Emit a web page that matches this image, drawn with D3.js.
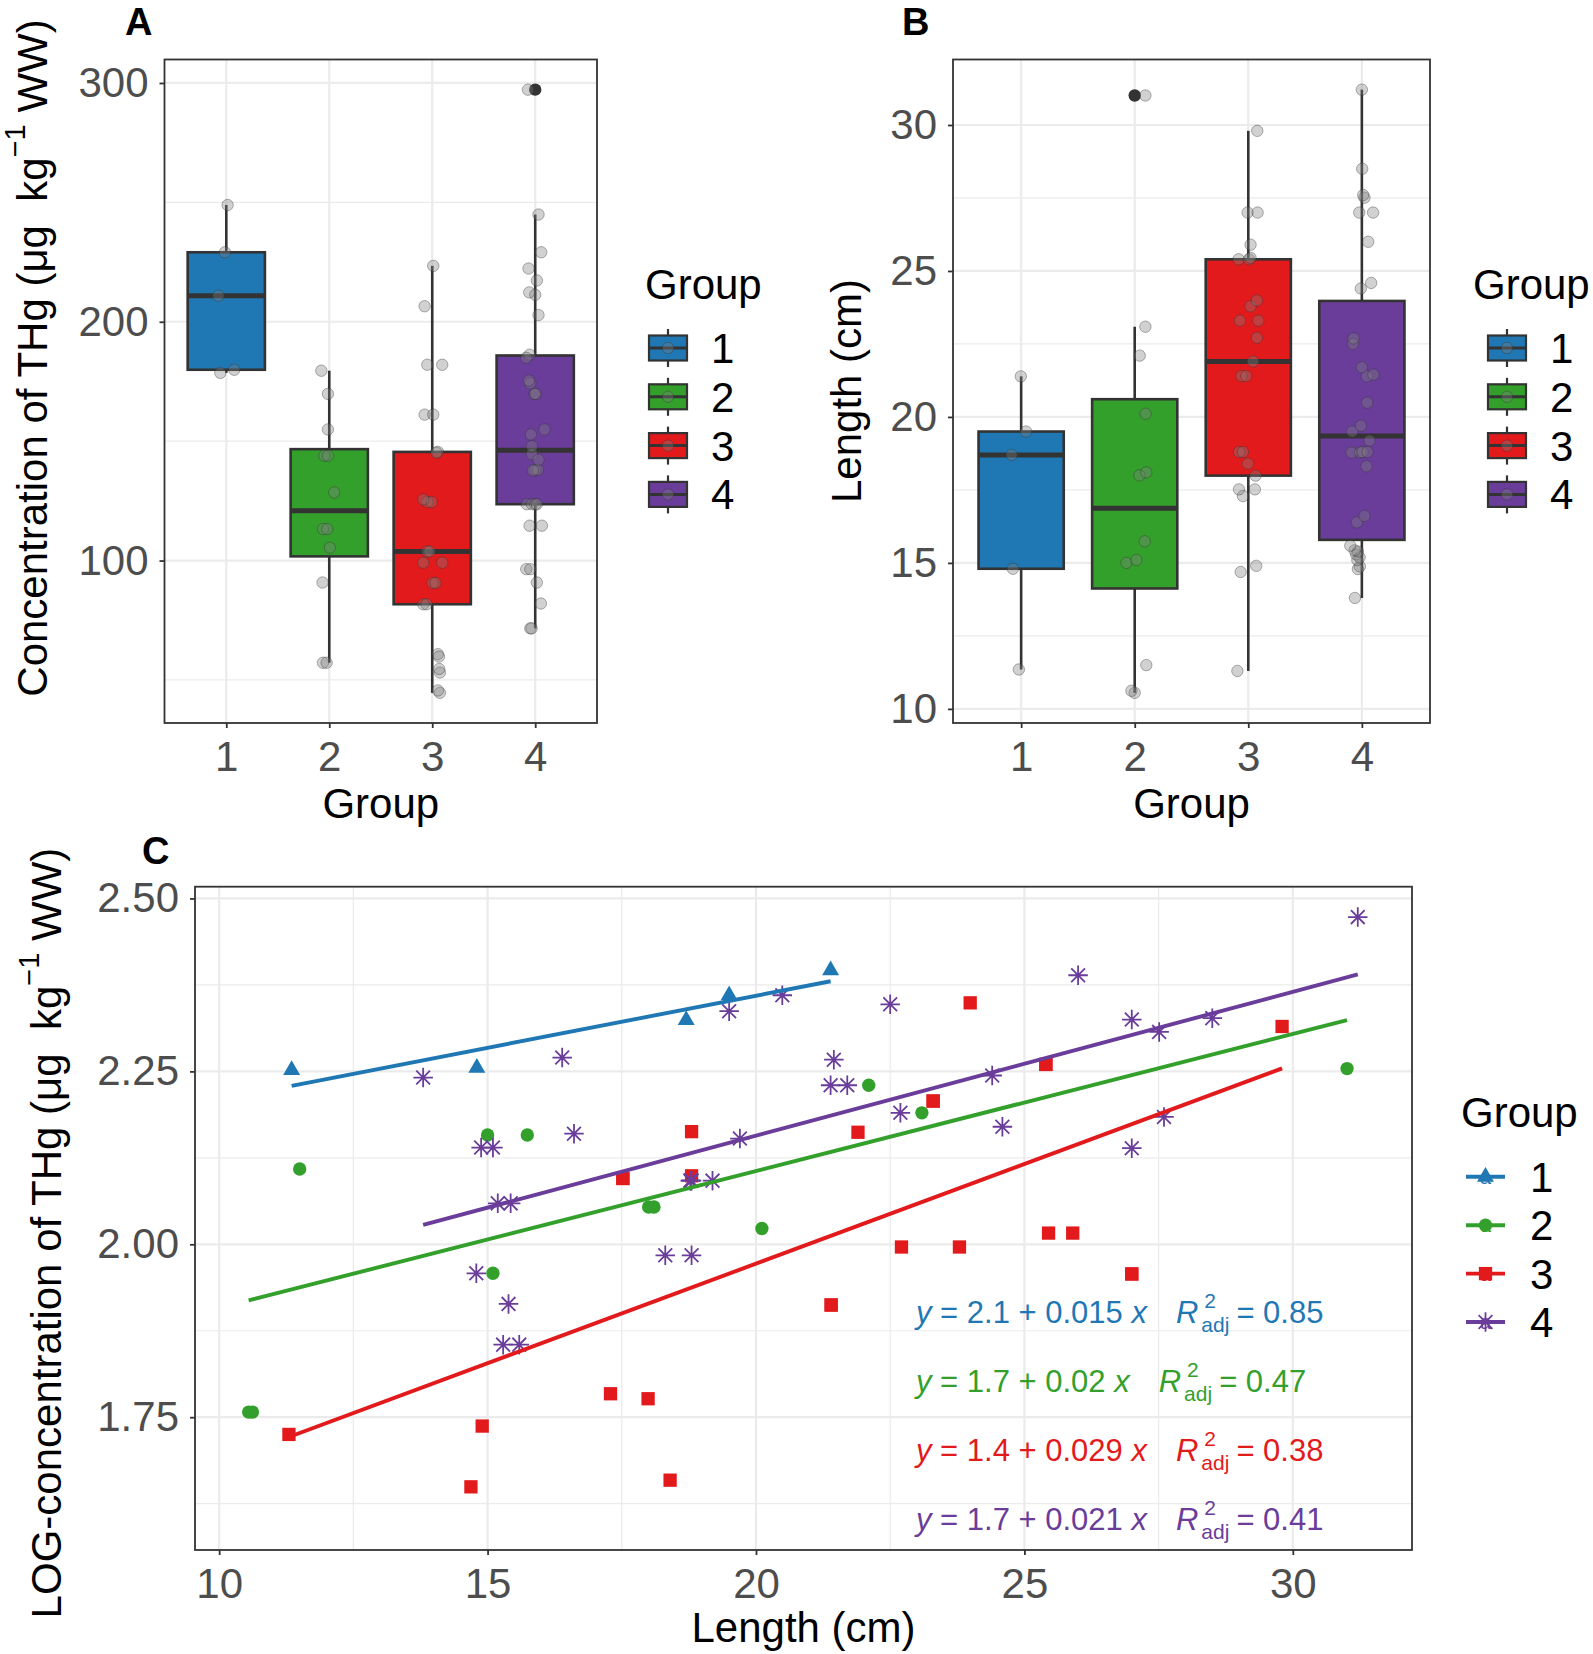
<!DOCTYPE html>
<html>
<head>
<meta charset="utf-8">
<script src="https://cdn.jsdelivr.net/npm/d3@7"></script>
<style>
  body { margin: 0; background: #fff; }
  svg { font-family: "Liberation Sans", Arial, sans-serif; }
</style>
</head>
<body>
<svg id="chart" width="1593" height="1654"></svg>
<script>
// ---- data (one entry per fish, per group) ----
var groups = ["1", "2", "3", "4"];
var groupColors = ["#1F78B4", "#33A02C", "#E31A1C", "#6A3D9A"];

// length (cm)
var lengthG1 = [11.35, 14.80, 18.70, 19.50, 21.39];
var lengthG2 = [10.55, 10.62, 11.50, 15.00, 15.10, 15.74, 18.00, 18.10, 20.11, 22.10, 23.09, 31.01];
var lengthG3 = [11.30, 14.69, 14.90, 17.29, 17.52, 17.52, 17.99, 18.40, 18.80, 18.80, 21.40, 21.40, 21.90,
                22.71, 23.30, 23.30, 23.79, 23.99, 25.40, 25.40, 25.45, 25.90, 27.00, 27.00, 29.80];
var lengthG4 = [13.80, 14.79, 14.88, 15.10, 15.19, 15.29, 15.39, 15.43, 15.59, 16.39, 16.61, 18.31, 18.78,
                18.78, 18.80, 18.80, 19.19, 19.50, 19.70, 20.49, 21.39, 21.45, 21.70, 22.50, 22.69, 24.40,
                24.59, 26.00, 27.00, 27.00, 27.51, 27.60, 28.50, 31.21];

// THg (ug/kg WW)
var thgG1 = [178.6, 179.9, 210.9, 229.1, 248.9];
var thgG2 = [57.2, 57.2, 128.5, 143.9, 90.8, 143.9, 113.2, 113.2, 105.4, 169.8, 154.9, 179.5];
var thgG3 = [53.1, 44.6, 54.6, 60.8, 124.5, 124.5, 59.8, 45.6, 145.5, 125.6, 81.7, 81.7, 145.2,
             99.1, 161.1, 161.1, 99.1, 223.4, 182.0, 182.0, 103.8, 103.8, 90.6, 90.6, 206.5];
var thgG4 = [174.2, 90.8, 138.0, 138.0, 114.6, 71.6, 82.0, 114.6, 71.6, 186.2, 144.5, 96.4, 123.6,
             123.6, 96.4, 123.6, 123.6, 217.3, 142.2, 229.1, 169.8, 184.9, 169.8, 222.3, 154.9, 175.4,
             147.9, 244.9, 211.3, 137.7, 202.8, 152.8, 212.3, 297.2];

var jitThgG1 = [-0.058, 0.077, -0.077, -0.013, 0.013];
var jitThgG2 = [-0.061, -0.026, 0.048, -0.048, -0.065, -0.013, -0.061, -0.019, 0.006, -0.013, -0.013, -0.077];
var jitThgG3 = [0.074, 0.074, 0.068, 0.055, -0.048, -0.006, 0.065, 0.055, 0.055, -0.087, -0.087, -0.055, 0.04,
                -0.087, -0.074, 0.01, 0.097, 0.01, -0.048, 0.097, -0.048, -0.026, 0.003, 0.032, -0.074];
var jitThgG4 = [-0.048, 0.016, 0, 0.026, -0.055, -0.048, 0.055, 0.065, -0.035, -0.055, -0.032, -0.087, -0.081,
                -0.032, -0.048, 0.0, 0.016, 0.016, 0.032, 0.058, -0.006, -0.087, 0.003, -0.065, 0.09,
                -0.061, -0.032, 0.032, 0, -0.023, 0.032, -0.042, -0.058, -0.071];
var jitLenG1 = [-0.02, -0.072, -0.084, 0.043, -0.003];
var jitLenG2 = [0, -0.029, 0.102, -0.073, 0.015, 0.088, 0.041, 0.102, 0.096, 0.044, 0.094, 0.094];
var jitLenG3 = [-0.096, -0.067, 0.07, -0.047, -0.082, 0.058, 0.064, -0.003, -0.082, -0.047, -0.061, -0.018, 0.041,
                0.076, -0.073, 0.088, 0.02, 0.076, -0.085, 0.006, 0.02, 0.02, -0.006, 0.082, 0.079];
var jitLenG4 = [-0.061, -0.035, -0.018, -0.04, -0.02, -0.05, -0.035, -0.064, -0.102, -0.044, 0.023, 0.041, -0.091,
                -0.015, 0.006, 0.05, 0.067, -0.085, -0.009, 0.047, 0.044, 0.102, 0, -0.079, -0.073, -0.009,
                0.082, 0.056, -0.023, 0.099, 0.023, 0.012, 0.003, 0];

// fitted lines log10(THg) ~ length, and their printed labels
var fitIntercept = [2.058, 1.710, 1.396, 1.741];
var fitSlope = [0.01507, 0.0198, 0.0288, 0.0208];
var eqIntercept = ["2.1", "1.7", "1.4", "1.7"];
var eqSlope = ["0.015", "0.02", "0.029", "0.021"];
var eqR2 = ["0.85", "0.47", "0.38", "0.41"];

// axis ticks
var thgTicks = [100, 200, 300], thgMinor = [50, 150, 250];
var lenTicks = [10, 15, 20, 25, 30], lenMinor = [12.5, 17.5, 22.5, 27.5];
var logTicks = [1.75, 2.00, 2.25, 2.50], logMinor = [1.625, 1.875, 2.125, 2.375];
var logLimits = [1.558, 2.517], lenLimitsC = [9.55, 32.22];

// ---- build table ----
var lengths = [lengthG1, lengthG2, lengthG3, lengthG4];
var thgs = [thgG1, thgG2, thgG3, thgG4];
var jitThg = [jitThgG1, jitThgG2, jitThgG3, jitThgG4];
var jitLen = [jitLenG1, jitLenG2, jitLenG3, jitLenG4];

var fish = groups.map(function(g, i) {
  return lengths[i].map(function(l, j) {
    return { group: g, gi: i, len: l, thg: thgs[i][j], logThg: Math.log10(thgs[i][j]),
             jThg: jitThg[i][j], jLen: jitLen[i][j] };
  });
});

var svg = d3.select("#chart");
var FS = 42;
var GRID = "#EBEBEB", DARK = "#333333", TICKTXT = "#4D4D4D";

function boxStats(vals) {
  var s = vals.slice().sort(d3.ascending);
  var q1 = d3.quantile(s, 0.25), med = d3.quantile(s, 0.5), q3 = d3.quantile(s, 0.75);
  var iqr = q3 - q1, lo = q1 - 1.5 * iqr, hi = q3 + 1.5 * iqr;
  var inside = s.filter(function(v) { return v >= lo && v <= hi; });
  return { q1: q1, med: med, q3: q3, wlo: d3.min(inside), whi: d3.max(inside),
           out: s.filter(function(v) { return v < lo || v > hi; }) };
}

function styleAxis(ax) {
  ax.select(".domain").remove();
  ax.selectAll(".tick line").attr("stroke", DARK).attr("stroke-width", 1.8);
  ax.selectAll(".tick text").attr("fill", TICKTXT).style("font-size", FS + "px")
    .style("font-family", "'Liberation Sans', Arial, sans-serif");
}

function yTitle(x, y, parts) {
  var t = svg.append("text").attr("transform", "translate(" + x + "," + y + ") rotate(-90)")
    .attr("text-anchor", "middle").style("font-size", FS + "px").style("white-space", "pre");
  parts.forEach(function(p) {
    var s = t.append("tspan").text(p.text);
    if (p.sup) s.style("font-size", "29px").attr("dy", -22);
    if (p.after) s.attr("dy", 22);
  });
}

function thgTitleParts(prefix) {
  return [{ text: prefix + "of THg (\u03bcg  kg" }, { text: "\u22121", sup: true }, { text: " WW)", after: true }];
}

function drawBoxPanel(p) {
  var x = d3.scalePoint().domain(groups).range([p.left, p.right]).padding(0.6);
  var step = x.step();
  var all = [].concat.apply([], fish.map(function(f) { return f.map(function(d) { return d[p.key]; }); }));
  var ext = d3.extent(all), pad = (ext[1] - ext[0]) * 0.05;
  var y = d3.scaleLinear().domain([ext[0] - pad, ext[1] + pad]).range([p.bottom, p.top]);
  var g = svg.append("g");

  g.selectAll(null).data(p.minor).enter().append("line")
    .attr("x1", p.left).attr("x2", p.right).attr("y1", y).attr("y2", y)
    .attr("stroke", GRID).attr("stroke-width", 1.2);
  g.selectAll(null).data(p.ticks).enter().append("line")
    .attr("x1", p.left).attr("x2", p.right).attr("y1", y).attr("y2", y)
    .attr("stroke", GRID).attr("stroke-width", 2.2);
  g.selectAll(null).data(groups).enter().append("line")
    .attr("x1", x).attr("x2", x).attr("y1", p.top).attr("y2", p.bottom)
    .attr("stroke", GRID).attr("stroke-width", 2.2);

  fish.forEach(function(f, i) {
    var st = boxStats(f.map(function(d) { return d[p.key]; }));
    var cx = x(groups[i]), bw = step * 0.75;
    g.append("line").attr("x1", cx).attr("x2", cx).attr("y1", y(st.whi)).attr("y2", y(st.q3))
      .attr("stroke", DARK).attr("stroke-width", 2.6);
    g.append("line").attr("x1", cx).attr("x2", cx).attr("y1", y(st.q1)).attr("y2", y(st.wlo))
      .attr("stroke", DARK).attr("stroke-width", 2.6);
    g.append("rect").attr("x", cx - bw / 2).attr("y", y(st.q3)).attr("width", bw)
      .attr("height", y(st.q1) - y(st.q3)).attr("fill", groupColors[i])
      .attr("stroke", DARK).attr("stroke-width", 2.6);
    g.append("line").attr("x1", cx - bw / 2).attr("x2", cx + bw / 2).attr("y1", y(st.med)).attr("y2", y(st.med))
      .attr("stroke", DARK).attr("stroke-width", 5);
    g.selectAll(null).data(st.out).enter().append("circle")
      .attr("cx", cx).attr("cy", y).attr("r", 6.2).attr("fill", DARK);
  });

  fish.forEach(function(f) {
    g.selectAll(null).data(f).enter().append("circle")
      .attr("cx", function(d) { return x(d.group) + d[p.jit] * step; })
      .attr("cy", function(d) { return y(d[p.key]); })
      .attr("r", 5.7)
      .attr("fill", "#808080").attr("fill-opacity", 0.36)
      .attr("stroke", "#333").attr("stroke-opacity", 0.38).attr("stroke-width", 1);
  });

  g.append("rect").attr("x", p.left).attr("y", p.top).attr("width", p.right - p.left)
    .attr("height", p.bottom - p.top).attr("fill", "none").attr("stroke", DARK).attr("stroke-width", 1.8);

  var ay = g.append("g").attr("transform", "translate(" + p.left + ",0)")
    .call(d3.axisLeft(y).tickValues(p.ticks).tickSize(5).tickPadding(11));
  styleAxis(ay);
  var ax = g.append("g").attr("transform", "translate(0," + p.bottom + ")")
    .call(d3.axisBottom(x).tickSize(5).tickPadding(13));
  styleAxis(ax);

  svg.append("text").attr("x", (p.left + p.right) / 2).attr("y", p.bottom + 95)
    .attr("text-anchor", "middle").style("font-size", FS + "px").text("Group");
  yTitle(p.titleX, p.titleY, p.title);
  svg.append("text").attr("x", p.tagX).attr("y", 35).style("font-size", "38px")
    .style("font-weight", "bold").text(p.tag);

  // legend
  var lg = svg.append("g");
  lg.append("text").attr("x", p.legTitleX).attr("y", 299).style("font-size", FS + "px").text("Group");
  groups.forEach(function(gr, i) {
    var cy = 348 + i * 48.8, kx = p.legX + 23, kw = 38, kh = 25;
    lg.append("line").attr("x1", kx).attr("x2", kx).attr("y1", cy - 19).attr("y2", cy + 19)
      .attr("stroke", DARK).attr("stroke-width", 2.2);
    lg.append("rect").attr("x", kx - kw / 2).attr("y", cy - kh / 2).attr("width", kw).attr("height", kh)
      .attr("fill", groupColors[i]).attr("stroke", DARK).attr("stroke-width", 2.2);
    lg.append("line").attr("x1", kx - kw / 2).attr("x2", kx + kw / 2).attr("y1", cy).attr("y2", cy)
      .attr("stroke", DARK).attr("stroke-width", 3);
    lg.append("circle").attr("cx", kx).attr("cy", cy).attr("r", 5.7).attr("fill", "#808080")
      .attr("fill-opacity", 0.36).attr("stroke", "#333").attr("stroke-opacity", 0.38);
    lg.append("text").attr("x", p.legX + 66).attr("y", cy + 15).style("font-size", FS + "px").text(gr);
  });
}

drawBoxPanel({ key: "thg", jit: "jThg", left: 164.5, right: 597, top: 59.5, bottom: 723,
  ticks: thgTicks, minor: thgMinor, tag: "A", tagX: 125, legX: 645, legTitleX: 645,
  titleX: 47, titleY: 358, title: thgTitleParts("Concentration ") });
drawBoxPanel({ key: "len", jit: "jLen", left: 953, right: 1430, top: 59.5, bottom: 723,
  ticks: lenTicks, minor: lenMinor, tag: "B", tagX: 902, legX: 1484, legTitleX: 1473,
  titleX: 861, titleY: 391, title: [{ text: "Length (cm)" }] });

// ---- panel C ----
(function() {
  var L = 195, R = 1412, T = 886.7, B = 1550;
  var x = d3.scaleLinear().domain(lenLimitsC).range([L, R]);
  var y = d3.scaleLinear().domain(logLimits).range([B, T]);
  var g = svg.append("g");

  g.selectAll(null).data(logMinor).enter().append("line")
    .attr("x1", L).attr("x2", R).attr("y1", y).attr("y2", y).attr("stroke", GRID).attr("stroke-width", 1.2);
  g.selectAll(null).data(lenMinor).enter().append("line")
    .attr("x1", x).attr("x2", x).attr("y1", T).attr("y2", B).attr("stroke", GRID).attr("stroke-width", 1.2);
  g.selectAll(null).data(logTicks).enter().append("line")
    .attr("x1", L).attr("x2", R).attr("y1", y).attr("y2", y).attr("stroke", GRID).attr("stroke-width", 2.2);
  g.selectAll(null).data(lenTicks).enter().append("line")
    .attr("x1", x).attr("x2", x).attr("y1", T).attr("y2", B).attr("stroke", GRID).attr("stroke-width", 2.2);

  var star8 = { draw: function(ctx, size) {
    var r = Math.sqrt(size) / 2, q = r * Math.SQRT1_2;
    ctx.moveTo(-r, 0); ctx.lineTo(r, 0); ctx.moveTo(0, -r); ctx.lineTo(0, r);
    ctx.moveTo(-q, -q); ctx.lineTo(q, q); ctx.moveTo(-q, q); ctx.lineTo(q, -q);
  } };
  var shapes = [d3.symbol().type(d3.symbolTriangle).size(125),
                d3.symbol().type(d3.symbolCircle).size(140),
                d3.symbol().type(d3.symbolSquare).size(177),
                d3.symbol().type(star8).size(380)];
  function styleShape(sel, i) {
    if (i === 3) sel.attr("fill", "none").attr("stroke", groupColors[i]).attr("stroke-width", 1.8);
    else sel.attr("fill", groupColors[i]);
  }

  fish.forEach(function(f, i) {
    var pts = g.selectAll(null).data(f).enter().append("path")
      .attr("d", shapes[i])
      .attr("transform", function(d) { return "translate(" + x(d.len) + "," + y(d.logThg) + ")"; });
    styleShape(pts, i);
  });

  fish.forEach(function(f, i) {
    var ex = d3.extent(f, function(d) { return d.len; });
    g.append("line").attr("x1", x(ex[0])).attr("x2", x(ex[1]))
      .attr("y1", y(fitIntercept[i] + fitSlope[i] * ex[0]))
      .attr("y2", y(fitIntercept[i] + fitSlope[i] * ex[1]))
      .attr("stroke", groupColors[i]).attr("stroke-width", 3.9);
  });

  // equations
  fish.forEach(function(f, i) {
    var col = groupColors[i], yb = 1323 + i * 69, x0 = 916;
    var t1 = g.append("text").attr("x", x0).attr("y", yb).attr("fill", col)
      .style("font-size", "31px").style("white-space", "pre");
    t1.append("tspan").style("font-style", "italic").text("y");
    t1.append("tspan").text(" = " + eqIntercept[i] + " + " + eqSlope[i] + " ");
    t1.append("tspan").style("font-style", "italic").text("x");
    var w1 = t1.node().getComputedTextLength();
    var xr = x0 + w1 + 29;
    var tr = g.append("text").attr("x", xr).attr("y", yb).attr("fill", col)
      .style("font-size", "31px").style("font-style", "italic").text("R");
    var wr = tr.node().getComputedTextLength();
    g.append("text").attr("x", xr + wr + 6).attr("y", yb - 15).attr("fill", col)
      .style("font-size", "21px").text("2");
    var ta = g.append("text").attr("x", xr + wr + 3).attr("y", yb + 9).attr("fill", col)
      .style("font-size", "21px").text("adj");
    var wa = ta.node().getComputedTextLength();
    g.append("text").attr("x", xr + wr + 3 + wa + 7).attr("y", yb).attr("fill", col)
      .style("font-size", "31px").style("white-space", "pre").text("= " + eqR2[i]);
  });

  g.append("rect").attr("x", L).attr("y", T).attr("width", R - L).attr("height", B - T)
    .attr("fill", "none").attr("stroke", DARK).attr("stroke-width", 1.8);

  var ay = g.append("g").attr("transform", "translate(" + L + ",0)")
    .call(d3.axisLeft(y).tickValues(logTicks).tickFormat(d3.format(".2f")).tickSize(5).tickPadding(11));
  styleAxis(ay);
  var ax = g.append("g").attr("transform", "translate(0," + B + ")")
    .call(d3.axisBottom(x).tickValues(lenTicks).tickSize(5).tickPadding(13));
  styleAxis(ax);

  svg.append("text").attr("x", (L + R) / 2).attr("y", B + 92).attr("text-anchor", "middle")
    .style("font-size", FS + "px").text("Length (cm)");
  yTitle(61, 1233, thgTitleParts("LOG-concentration "));
  svg.append("text").attr("x", 142).attr("y", 864).style("font-size", "38px")
    .style("font-weight", "bold").text("C");

  var lg = svg.append("g");
  lg.append("text").attr("x", 1461).attr("y", 1127).style("font-size", FS + "px").text("Group");
  groups.forEach(function(gr, i) {
    var cy = 1176.8 + i * 48.4, kx = 1485.5;
    lg.append("text").attr("x", kx).attr("y", cy + 7).attr("text-anchor", "middle")
      .attr("fill", groupColors[i]).style("font-size", "20px").text("a");
    lg.append("line").attr("x1", kx - 19.5).attr("x2", kx + 19.5).attr("y1", cy).attr("y2", cy)
      .attr("stroke", groupColors[i]).attr("stroke-width", 3.9);
    var s = lg.append("path").attr("d", shapes[i]()).attr("transform", "translate(" + kx + "," + cy + ")");
    styleShape(s, i);
    lg.append("text").attr("x", 1530).attr("y", cy + 15).style("font-size", FS + "px").text(gr);
  });
})();
</script>
</body>
</html>
